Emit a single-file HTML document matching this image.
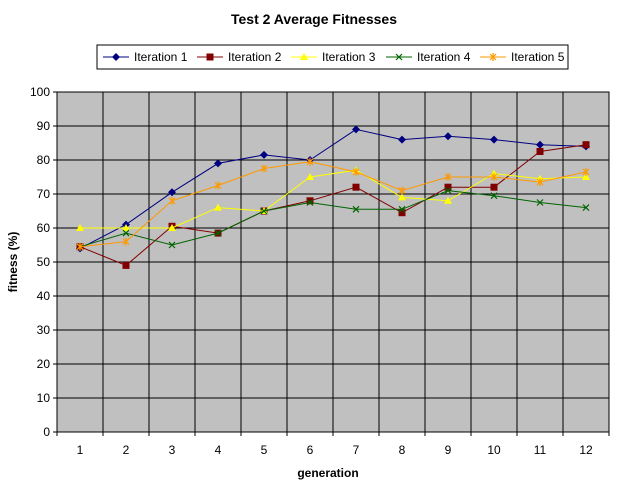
<!DOCTYPE html>
<html><head><meta charset="utf-8"><style>
body{margin:0;background:#fff;font-family:"Liberation Sans",Arial,sans-serif}
</style></head><body>
<svg id="c" width="617" height="493" xmlns="http://www.w3.org/2000/svg" font-family="Liberation Sans, Arial, sans-serif">
<text x="314" y="24" text-anchor="middle" font-size="14" font-weight="bold">Test 2 Average Fitnesses</text>
<rect x="57" y="92" width="552" height="340" fill="#c0c0c0"/>
<g id="grid"></g><g id="series"></g><g id="axes"></g>
<text x="328" y="477" text-anchor="middle" font-size="12" font-weight="bold">generation</text>
<text transform="translate(17,262) rotate(-90)" text-anchor="middle" font-size="12" font-weight="bold">fitness (%)</text>
<g id="legend"><rect x="97" y="45" width="471" height="24" fill="#fff" stroke="#000"/></g>
</svg>
<script>
const categories=[1,2,3,4,5,6,7,8,9,10,11,12];
const yTicks=[0,10,20,30,40,50,60,70,80,90,100];
const seriesNames=["Iteration 1","Iteration 2","Iteration 3","Iteration 4","Iteration 5"];
const iter1=[54,61,70.5,79,81.5,80,89,86,87,86,84.5,84];
const iter2=[54.5,49,60.5,58.5,65,68,72,64.5,72,72,82.5,84.5];
const iter3=[60,60,60,66,65,75,77,69,68,76,74.5,75];
const iter4=[54.5,58.5,55,58.5,65,67.5,65.5,65.5,71,69.5,67.5,66];
const iter5=[54.5,56,68,72.5,77.5,79.5,76.5,71,75,75,73.5,76.5];
const allSeries=[iter1,iter2,iter3,iter4,iter5];
const colors=["#000080","#800000","#ffff00","#006400","#ff9900"];
const markers=["diamond","square","triangle","x","star"];
const NS="http://www.w3.org/2000/svg";
const L=57,R=609,T=92,B=432;
const xs=i=>L+(i+0.5)*(R-L)/categories.length;
const ys=v=>B-(v-0)/(100-0)*(B-T);
function mk(tag,attrs,parent){const e=document.createElementNS(NS,tag);for(const k in attrs)e.setAttribute(k,attrs[k]);parent.appendChild(e);return e;}
const grid=document.getElementById('grid'),axes=document.getElementById('axes'),ser=document.getElementById('series'),leg=document.getElementById('legend');
yTicks.forEach(t=>{const y=ys(t);
 const g=mk('line',{x1:L,x2:R,y1:y,y2:y,stroke:'#000','stroke-width':1},grid);
 
 
 mk('line',{x1:L-4,x2:L,y1:y,y2:y,stroke:'#000'},axes);
 const tx=mk('text',{x:L-7,y:y+4,'text-anchor':'end','font-size':12},axes);tx.textContent=t;
 
 
});
for(let i=0;i<=categories.length;i++){const x=L+i*(R-L)/categories.length;
 const g=mk('line',{x1:x,x2:x,y1:T,y2:B+4,stroke:'#000'},grid);
 
 
}
categories.forEach((c,i)=>{const tx=mk('text',{x:xs(i),y:B+22,'text-anchor':'middle','font-size':12},axes);tx.textContent=c;
 
 });
mk('rect',{x:L,y:T,width:R-L,height:B-T,fill:'none',stroke:'#000'},axes);
function marker(type,x,y,col,p){
 if(type==='diamond')return mk('polygon',{points:`${x},${y-4} ${x+4},${y} ${x},${y+4} ${x-4},${y}`,fill:col},p);
 if(type==='square')return mk('rect',{x:x-3.5,y:y-3.5,width:7,height:7,fill:col},p);
 if(type==='triangle')return mk('polygon',{points:`${x},${y-4} ${x+4},${y+3} ${x-4},${y+3}`,fill:col},p);
 const g=mk('g',{stroke:col,'stroke-width':1.2},p);
 mk('path',{d:`M${x-3} ${y-3}L${x+3} ${y+3}M${x-3} ${y+3}L${x+3} ${y-3}`+(type==='star'?`M${x} ${y-4}V${y+4}`:'')},g);return g;
}
allSeries.forEach((vals,s)=>{
 const g=mk('g',{},ser);
 
 
 mk('polyline',{points:vals.map((v,i)=>xs(i)+','+ys(v)).join(' '),fill:'none',stroke:colors[s],'stroke-width':1},g);
 vals.forEach((v,i)=>{const m=marker(markers[s],xs(i),ys(v),colors[s],g);
  
  });
 const lx=[103,197,291,386,480][s];
 const e=mk('g',{},leg);
 
 
 mk('line',{x1:lx,x2:lx+26,y1:57,y2:57,stroke:colors[s]},e);
 marker(markers[s],lx+13,57,colors[s],e);
 const t=mk('text',{x:lx+31,y:61,'font-size':12},e);t.textContent=seriesNames[s];
});
</script>
</body></html>
